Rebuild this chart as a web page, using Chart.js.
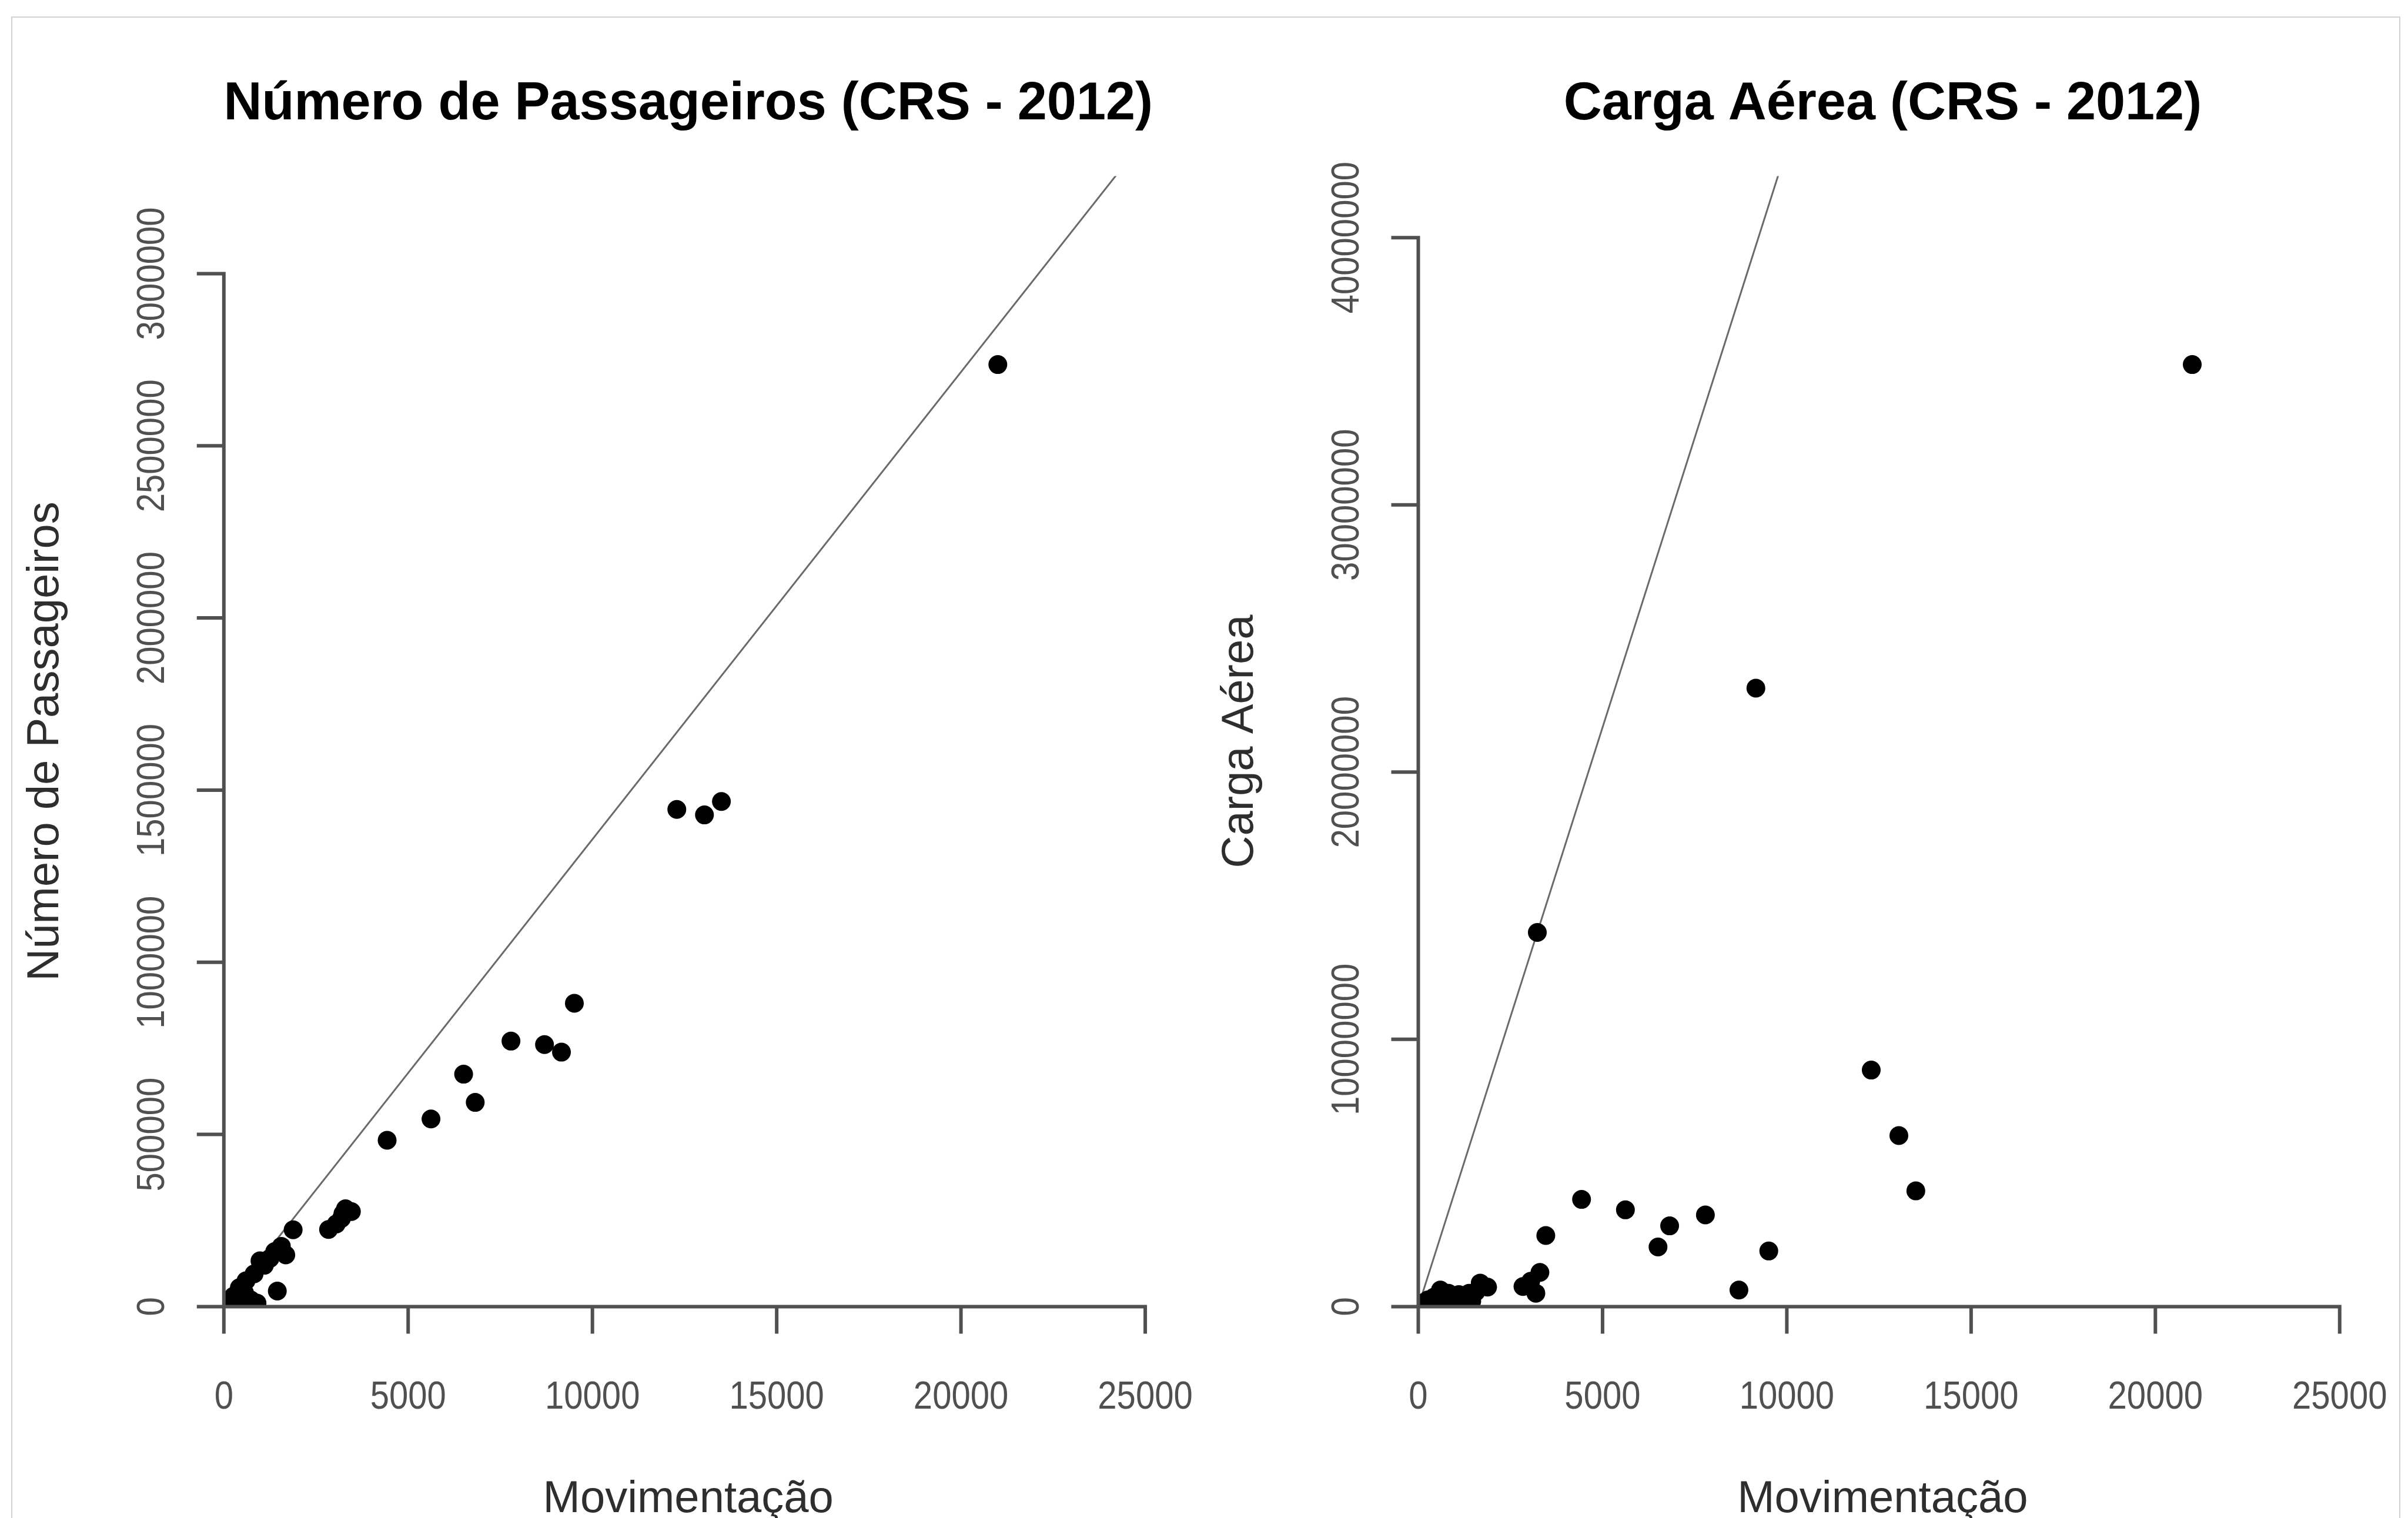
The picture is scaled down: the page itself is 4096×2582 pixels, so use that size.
<!DOCTYPE html>
<html>
<head>
<meta charset="utf-8">
<title>Número de Passageiros e Carga Aérea (CRS - 2012)</title>
<script src="https://cdn.jsdelivr.net/npm/chart.js@4.4.1/dist/chart.umd.min.js"></script>
<style>
  html, body { margin: 0; padding: 0; background: #fff; overflow: hidden; }
  #wrap { position: relative; width: 4096px; height: 2582px; }
  #frame { position: absolute; left: 19px; top: 28px; width: 4064px; height: 2700px;
           border: 2px solid #d2d2d2; box-sizing: border-box; }
  canvas { position: absolute; top: 0; }
  #chartPass { left: 0; }
  #chartCarga { left: 2048px; }
</style>
</head>
<body>
<div id="wrap">
  <div id="frame"></div>
  <canvas id="chartPass" width="2048" height="2582"></canvas>
  <canvas id="chartCarga" width="2048" height="2582"></canvas>
</div>
<script>
// aeroportos: movimentação x passageiros / carga aérea
const movimentacao = [21000, 12290, 13040, 13500, 9510, 7790, 8700, 9160, 6505, 6820,
  5620, 4430, 3460, 3300, 3230, 3190, 3050, 2840, 1880, 1680,
  1560, 1450, 1380, 1250, 1100, 980, 900, 820, 720, 600,
  560, 420, 350, 260, 150];
const passageiros = [2736000, 1444000, 1428000, 1467000, 881000, 771000, 761000, 739000, 675000, 593000,
  545000, 483000, 276000, 284000, 270000, 256000, 240000, 224000, 223000, 150000,
  175000, 45000, 160000, 140000, 120000, 133000, 10000, 95000, 20000, 75000,
  40000, 55000, 5000, 30000, 12000];
const cargaAerea = [35250000, 8850000, 6400000, 4330000, 2080000, 3430000, 620000, 23140000, 2230000, 3020000,
  3620000, 4010000, 2660000, 1280000, 14000000, 500000, 950000, 750000, 730000, 880000,
  550000, 200000, 500000, 350000, 450000, 400000, 200000, 500000, 300000, 620000,
  450000, 350000, 100000, 250000, 150000];

const movTicks = [0, 5000, 10000, 15000, 20000, 25000];
const passTicks = [0, 500000, 1000000, 1500000, 2000000, 2500000, 3000000];
const cargaTicks = [0, 10000000, 20000000, 30000000, 40000000];

const FONT = '"Liberation Sans", Arial, sans-serif';
const AXIS_COLOR = '#505050';
const TICK_LEN = 43;

// base-R style axes: line only between first and last tick, outward ticks,
// y labels parallel to the axis
const rAxes = {
  id: 'rAxes',
  afterDraw(chart, args, opts) {
    const { ctx, chartArea } = chart;
    const xs = chart.scales.x;
    const ys = chart.scales.y;
    const left = chartArea.left;
    const bottom = chartArea.bottom;
    const midX = (chartArea.left + chartArea.right) / 2;
    const midY = (chartArea.top + chartArea.bottom) / 2;

    ctx.save();
    ctx.strokeStyle = AXIS_COLOR;
    ctx.lineWidth = 6;
    ctx.lineCap = 'square';
    ctx.beginPath();
    ctx.moveTo(xs.getPixelForValue(opts.xTicks[0]), bottom);
    ctx.lineTo(xs.getPixelForValue(opts.xTicks[opts.xTicks.length - 1]), bottom);
    opts.xTicks.forEach(v => {
      const px = xs.getPixelForValue(v);
      ctx.moveTo(px, bottom);
      ctx.lineTo(px, bottom + TICK_LEN);
    });
    ctx.moveTo(left, ys.getPixelForValue(opts.yTicks[0]));
    ctx.lineTo(left, ys.getPixelForValue(opts.yTicks[opts.yTicks.length - 1]));
    opts.yTicks.forEach(v => {
      const py = ys.getPixelForValue(v);
      ctx.moveTo(left, py);
      ctx.lineTo(left - TICK_LEN, py);
    });
    ctx.stroke();

    // tick labels
    ctx.fillStyle = '#505050';
    ctx.font = '66px ' + FONT;
    ctx.textAlign = 'center';
    ctx.textBaseline = 'alphabetic';
    opts.xTicks.forEach(v => {
      ctx.save();
      ctx.translate(xs.getPixelForValue(v), bottom + 174);
      ctx.scale(0.88, 1);
      ctx.fillText(String(v), 0, 0);
      ctx.restore();
    });
    opts.yTicks.forEach(v => {
      ctx.save();
      ctx.translate(left - 102, ys.getPixelForValue(v));
      ctx.rotate(-Math.PI / 2);
      ctx.scale(0.88, 1);
      ctx.fillText(String(v), 0, 0);
      ctx.restore();
    });

    // titles
    ctx.fillStyle = '#000000';
    ctx.font = 'bold 90px ' + FONT;
    ctx.fillText(opts.title, midX, 203);

    ctx.fillStyle = '#2e2e2e';
    ctx.font = '76px ' + FONT;
    ctx.fillText(opts.xTitle, midX, 2572);
    ctx.save();
    ctx.translate(left - 282, midY);
    ctx.rotate(-Math.PI / 2);
    ctx.fillText(opts.yTitle, 0, 0);
    ctx.restore();
    ctx.restore();
  }
};

function drawPanel(canvasId, yValues, yTicks, padding, title, yTitle) {
  const points = movimentacao.map((m, i) => ({ x: m, y: yValues[i] }));
  // fronteira CRS: reta pela origem com a maior razão y/x
  const slope = Math.max(...points.map(p => p.y / p.x));
  const xMax = 1.2 * Math.max(...movimentacao);
  const yMax = 1.2 * Math.max(...yValues);

  return new Chart(document.getElementById(canvasId), {
    type: 'scatter',
    data: {
      datasets: [
        {
          data: points,
          backgroundColor: '#000000',
          borderWidth: 0,
          pointRadius: 16,
          pointHoverRadius: 16,
          clip: 0
        },
        {
          data: [{ x: 0, y: 0 }, { x: xMax, y: slope * xMax }],
          showLine: true,
          borderColor: '#6a6a6a',
          borderWidth: 3,
          pointRadius: 0,
          fill: false,
          clip: 0
        }
      ]
    },
    options: {
      responsive: false,
      animation: false,
      devicePixelRatio: 1,
      events: [],
      layout: { padding: padding, autoPadding: false },
      plugins: {
        legend: { display: false },
        tooltip: { enabled: false },
        rAxes: { xTicks: movTicks, yTicks: yTicks, title: title, xTitle: 'Movimentação', yTitle: yTitle }
      },
      scales: {
        x: { type: 'linear', display: false, min: 0, max: xMax },
        y: { type: 'linear', display: false, min: 0, max: yMax }
      }
    },
    plugins: [rAxes]
  });
}

drawPanel('chartPass', passageiros, passTicks,
  { left: 380.8, right: 87.4, top: 299.6, bottom: 359.6 },
  'Número de Passageiros (CRS - 2012)', 'Número de Passageiros');

drawPanel('chartCarga', cargaAerea, cargaTicks,
  { left: 364.5, right: 103.7, top: 299.6, bottom: 359.6 },
  'Carga Aérea (CRS - 2012)', 'Carga Aérea');
</script>
</body>
</html>
